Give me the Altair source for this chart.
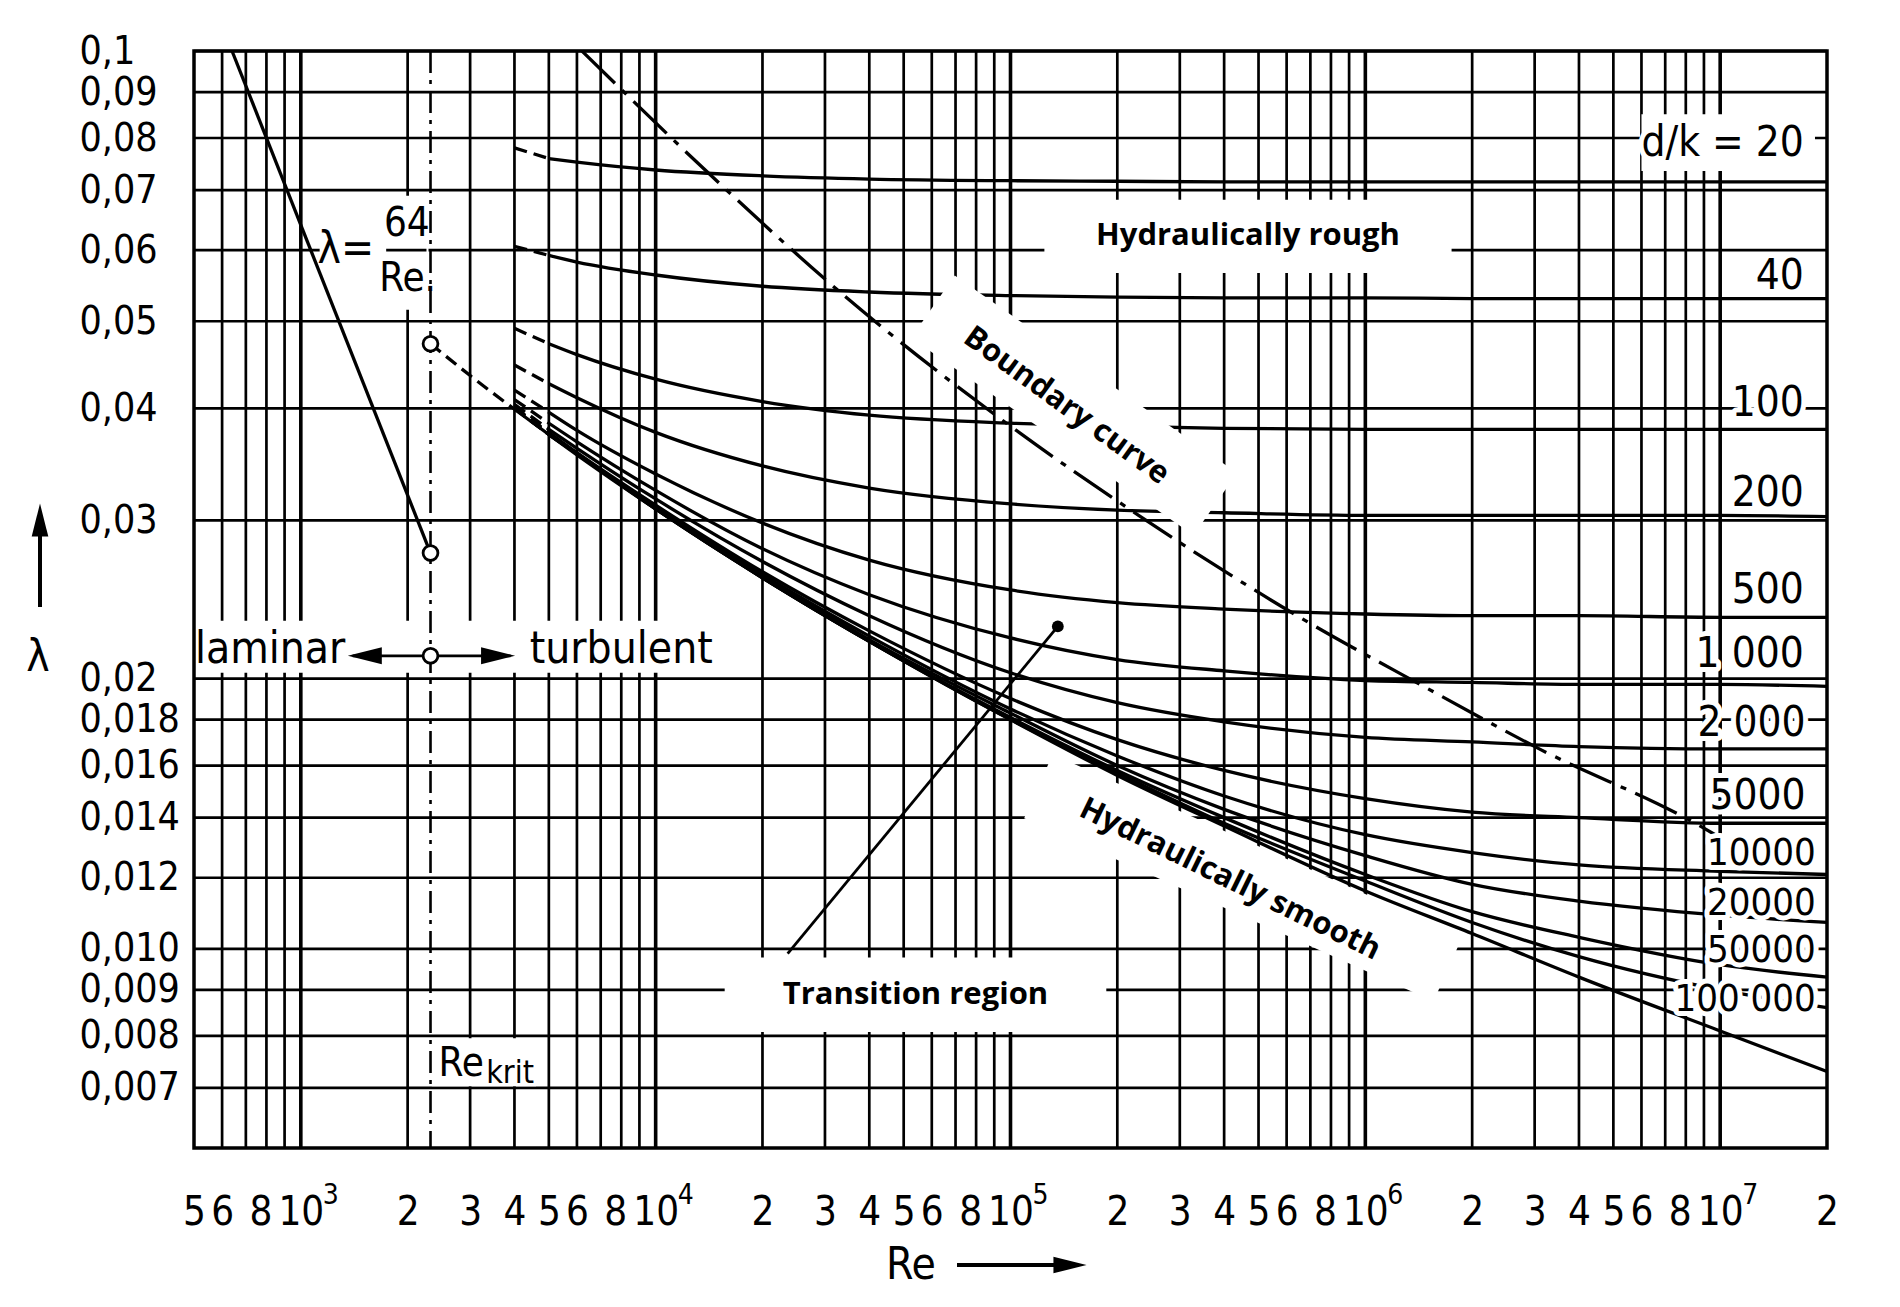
import altair as alt
import pandas as pd

W, H = 1633, 1097
NARROW = "Liberation Sans Narrow, DejaVu Sans Condensed, Liberation Sans, sans-serif"
BOLD = "Open Sans, Noto Sans, DejaVu Sans, sans-serif"

# ---------------- axes / ticks ----------------
X_TICK_VALUES = [500, 600, 800, 1000, 2000, 3000, 4000, 5000, 6000, 8000, 10000,
                 20000, 30000, 40000, 50000, 60000, 80000, 100000,
                 200000, 300000, 400000, 500000, 600000, 800000, 1000000,
                 2000000, 3000000, 4000000, 5000000, 6000000, 8000000, 10000000, 20000000]
X_TICK_LABELS = ["5", "6", "8", "10", "2", "3", "4", "5", "6", "8", "10",
                 "2", "3", "4", "5", "6", "8", "10",
                 "2", "3", "4", "5", "6", "8", "10",
                 "2", "3", "4", "5", "6", "8", "10", "2"]
DECADE_RE = [1000, 10000, 100000, 1000000, 10000000]
DECADE_EXP = ["3", "4", "5", "6", "7"]
EIGHT_RE = [800, 8000, 80000, 800000, 8000000]
Y_TICK_VALUES = [0.1, 0.09, 0.08, 0.07, 0.06, 0.05, 0.04, 0.03, 0.02, 0.018, 0.016,
                 0.014, 0.012, 0.010, 0.009, 0.008, 0.007]
Y_TICK_LABELS = ["0,1", "0,09", "0,08", "0,07", "0,06", "0,05", "0,04", "0,03", "0,02",
                 "0,018", "0,016", "0,014", "0,012", "0,010", "0,009", "0,008", "0,007"]
X_GRID = [m * 10 ** e for e in range(2, 8) for m in range(1, 10) if 500 < m * 10 ** e < 2e7]

# ---------------- curves ----------------
RE_TURB = [4000, 5000, 6000, 10000, 20000, 40000, 100000, 200000, 400000,
           1000000, 2000000, 4000000, 10000000, 20000000]
LAM_DK20 = [0.0780, 0.0759, 0.0752, 0.0737, 0.0726, 0.0720, 0.0717, 0.0716, 0.0715, 0.0715, 0.0715, 0.0715, 0.0715, 0.0715]
LAM_DK40 = [0.0606, 0.0592, 0.0582, 0.0563, 0.0547, 0.0539, 0.0534, 0.0532, 0.0531, 0.0531, 0.0530, 0.0530, 0.0530, 0.0530]
LAM_DK100 = [0.0491, 0.0472, 0.0459, 0.0431, 0.0407, 0.0393, 0.0385, 0.0382, 0.0380, 0.0379, 0.0379, 0.0379, 0.0379, 0.0379]
LAM_DK200 = [0.0447, 0.0426, 0.0411, 0.0376, 0.0345, 0.0326, 0.0313, 0.0308, 0.0306, 0.0304, 0.0304, 0.0304, 0.0304, 0.0303]
LAM_DK500 = [0.0419, 0.0396, 0.0378, 0.0338, 0.0298, 0.0271, 0.0251, 0.0243, 0.0239, 0.0236, 0.0235, 0.0235, 0.0234, 0.0234]
LAM_DK1000 = [0.0409, 0.0385, 0.0367, 0.0324, 0.0279, 0.0248, 0.0222, 0.0210, 0.0204, 0.0199, 0.0198, 0.0197, 0.0197, 0.0196]
LAM_DK2000 = [0.0404, 0.0379, 0.0361, 0.0317, 0.0270, 0.0235, 0.0203, 0.0188, 0.0179, 0.0172, 0.0170, 0.0168, 0.0167, 0.0167]
LAM_DK5000 = [0.0401, 0.0376, 0.0357, 0.0312, 0.0263, 0.0226, 0.0190, 0.0171, 0.0158, 0.0147, 0.0142, 0.0140, 0.0138, 0.0138]
LAM_DK10000 = [0.0400, 0.0375, 0.0356, 0.0310, 0.0261, 0.0223, 0.0185, 0.0164, 0.0148, 0.0134, 0.0128, 0.0124, 0.0122, 0.0121]
LAM_DK20000 = [0.0400, 0.0374, 0.0356, 0.0310, 0.0260, 0.0221, 0.0183, 0.0160, 0.0143, 0.0127, 0.0118, 0.0113, 0.0109, 0.0107]
LAM_DK50000 = [0.0400, 0.0374, 0.0356, 0.0309, 0.0259, 0.0220, 0.0181, 0.0158, 0.0140, 0.0121, 0.0110, 0.0103, 0.0096, 0.0093]
LAM_DK100000 = [0.0400, 0.0374, 0.0356, 0.0309, 0.0259, 0.0220, 0.0180, 0.0157, 0.0138, 0.0119, 0.0107, 0.0098, 0.0090, 0.0086]
DK_SERIES = {"20": LAM_DK20, "40": LAM_DK40, "100": LAM_DK100, "200": LAM_DK200,
             "500": LAM_DK500, "1000": LAM_DK1000, "2000": LAM_DK2000, "5000": LAM_DK5000,
             "10000": LAM_DK10000, "20000": LAM_DK20000, "50000": LAM_DK50000,
             "100000": LAM_DK100000}

RE_SMOOTH = [2320, 3000, 4000, 5000, 6000, 10000, 20000, 40000, 100000, 200000, 400000,
             1000000, 2000000, 4000000, 10000000, 20000000]
LAM_SMOOTH = [0.0472, 0.0435, 0.0399, 0.0374, 0.0355, 0.0309, 0.0259, 0.0220, 0.0180, 0.0156,
              0.0137, 0.0116, 0.0104, 0.0093, 0.0081, 0.0073]

RE_LAMINAR = [640, 2320]
LAM_LAMINAR = [0.1, 0.02759]

RE_BOUNDARY = [6200, 14960, 34750, 102800, 229600, 653500, 1426500, 3091000, 8503000, 10000000]
LAM_BOUNDARY = [0.1, 0.0715, 0.0530, 0.0379, 0.0304, 0.0234, 0.0197, 0.0167, 0.0138, 0.0133]

RE_KRIT = [2320]
CIRCLE_LAM = [0.0472, 0.02759, 0.0212]

DK_LABELS = ["d/k  = 20", "40", "100", "200", "500", "1 000", "2 000", "5000",
             "10000", "20000", "50000", "100 000"]
DK_LABEL_RE = [17200000, 17200000, 17200000, 17200000, 17200000, 17200000, 17400000, 17400000,
               18600000, 18600000, 18600000, 18600000]
DK_LABEL_LAM = [0.0790, 0.0561, 0.0405, 0.0322, 0.0251, 0.0213, 0.01784, 0.0148,
                0.01276, 0.01121, 0.00994, 0.00877]

XS = alt.Scale(type="log", domain=[500, 20000000], nice=False)
YS = alt.Scale(type="log", domain=[0.006, 0.1], nice=False)


def label_expr(values, labels):
    parts = [f"abs(datum.value / {v!r} - 1) < 0.001 ? '{lab}' : " for v, lab in zip(values, labels)]
    return "".join(parts) + "''"


eight_test = " || ".join(f"datum.value == {v}" for v in EIGHT_RE)

X_AXIS = alt.Axis(values=X_TICK_VALUES, labelExpr=label_expr(X_TICK_VALUES, X_TICK_LABELS),
                  grid=False, ticks=False, tickSize=0, domain=False, title=None,
                  labelFont=NARROW, labelFontSize=40, labelColor="black",
                  labelPadding=64, labelBaseline="middle", labelFlush=False,
                  labelOverlap=False, labelBound=False,
                  labelOffset={"condition": {"test": eight_test, "value": -6}, "value": 0})
Y_AXIS = alt.Axis(values=Y_TICK_VALUES, labelExpr=label_expr(Y_TICK_VALUES, Y_TICK_LABELS),
                  grid=False, ticks=False, tickSize=0, domain=False, title=None,
                  labelFont=NARROW, labelFontSize=39, labelColor="black",
                  labelAlign="left", labelPadding=115, labelBaseline="middle",
                  labelFlush=False, labelOverlap=False, labelBound=False)


def X(f="Re"):
    return alt.X(f"{f}:Q", scale=XS, axis=X_AXIS)


def Y(f="lam"):
    return alt.Y(f"{f}:Q", scale=YS, axis=Y_AXIS)


GRID_W = 2.7
CURVE_W = 3.3
layers = []

# grid
vgrid_df = pd.DataFrame({"Re": X_GRID,
                         "w": [3.6 if str(v).startswith("1") else GRID_W for v in X_GRID]})
layers.append(alt.Chart(vgrid_df).mark_rule(color="black").encode(
    x=X(), strokeWidth=alt.StrokeWidth("w:Q", scale=None)))
layers.append(alt.Chart(pd.DataFrame({"lam": Y_TICK_VALUES})).mark_rule(
    color="black", strokeWidth=GRID_W).encode(y=Y()))

# decade exponents of the x tick labels
layers.append(alt.Chart(pd.DataFrame({"Re": DECADE_RE, "t": DECADE_EXP})).mark_text(
    font=NARROW, fontSize=28, align="left", baseline="middle", dx=22, color="black").encode(
    x=X(), y=alt.value(H + 48), text="t:N"))

# white boxes that interrupt the grid behind the labels
boxes = pd.DataFrame({
    "Re1": [510, 1130, 2340, 6000000, 124600, 15650],
    "Re2": [13000, 2290, 4600, 18500000, 1750000, 186200],
    "lam1": [0.0203, 0.0515, 0.00703, 0.0735, 0.0566, 0.00808],
    "lam2": [0.0232, 0.069, 0.00795, 0.085, 0.0683, 0.00978]})
layers.append(alt.Chart(boxes.iloc[0:4]).mark_rect(color="white").encode(
    x=X("Re1"), x2="Re2", y=Y("lam1"), y2="lam2"))

# Re_krit dash-dot line
layers.append(alt.Chart(pd.DataFrame({"Re": RE_KRIT})).mark_rule(
    color="black", strokeWidth=2.6, strokeDash=[22, 7, 4, 7]).encode(x=X()))

# curves
solid_rows, dash_rows = [], []
for name, lams in DK_SERIES.items():
    for i, (r, l) in enumerate(zip(RE_TURB, lams)):
        if i >= 1:
            solid_rows.append({"curve": name, "Re": r, "lam": l})
        if i <= 1:
            dash_rows.append({"curve": name, "Re": r, "lam": l})
for i, (r, l) in enumerate(zip(RE_SMOOTH, LAM_SMOOTH)):
    if i >= 2:
        solid_rows.append({"curve": "smooth", "Re": r, "lam": l})
    if i <= 2:
        dash_rows.append({"curve": "smooth", "Re": r, "lam": l})
for r, l in zip(RE_LAMINAR, LAM_LAMINAR):
    solid_rows.append({"curve": "laminar", "Re": r, "lam": l})

layers.append(alt.Chart(pd.DataFrame(solid_rows)).mark_line(
    color="black", strokeWidth=CURVE_W, interpolate="monotone").encode(
    x=X(), y=Y(), detail="curve:N"))
layers.append(alt.Chart(pd.DataFrame(dash_rows)).mark_line(
    color="black", strokeWidth=CURVE_W, strokeDash=[13, 7], interpolate="monotone").encode(
    x=X(), y=Y(), detail="curve:N"))

# boundary curve
layers.append(alt.Chart(pd.DataFrame({"Re": RE_BOUNDARY, "lam": LAM_BOUNDARY})).mark_line(
    color="black", strokeWidth=CURVE_W, strokeDash=[46, 10, 6, 10], interpolate="monotone").encode(
    x=X(), y=Y()))

# white rotated bands for English annotations
bands = pd.DataFrame({"band": ["b", "b", "s", "s"],
                      "Re": [60460, 377600, 119850, 1708000],
                      "lam": [0.05191, 0.03128, 0.01517, 0.00949],
                      "w": [76, 76, 70, 70]})
layers.append(alt.Chart(bands).mark_line(color="white", strokeCap="butt").encode(
    x=X(), y=Y(), detail="band:N", strokeWidth=alt.StrokeWidth("w:Q", scale=None)))
layers.append(alt.Chart(boxes.iloc[4:6]).mark_rect(color="white").encode(
    x=X("Re1"), x2="Re2", y=Y("lam1"), y2="lam2"))

# transition pointer
ptr = pd.DataFrame({"Re": [23550, 135950], "lam": [0.00988, 0.02286]})
layers.append(alt.Chart(ptr).mark_line(color="black", strokeWidth=2.8).encode(x=X(), y=Y()))
layers.append(alt.Chart(ptr.iloc[1:]).mark_point(filled=True, color="black", size=140, opacity=1).encode(
    x=X(), y=Y()))

# laminar / turbulent arrow
layers.append(alt.Chart(pd.DataFrame({"Re1": [1400], "Re2": [3900], "lam": [0.0212]})).mark_rule(
    color="black", strokeWidth=2.8).encode(x=X("Re1"), x2="Re2", y=Y()))
heads = pd.DataFrame({"Re": [1515, 3597], "lam": [0.0212, 0.0212],
                      "shape": ["M -1 0 L 1 -0.5 L 1 0.5 Z", "M 1 0 L -1 -0.5 L -1 0.5 Z"]})
layers.append(alt.Chart(heads).mark_point(filled=True, color="black", size=1156, opacity=1).encode(
    x=X(), y=Y(), shape=alt.Shape("shape:N", scale=None)))
layers.append(alt.Chart(pd.DataFrame({"Re": RE_KRIT * 3, "lam": CIRCLE_LAM})).mark_point(
    filled=True, fill="white", stroke="black", strokeWidth=2.8, size=220, opacity=1).encode(x=X(), y=Y()))


def text_layers(df, size, font=NARROW, weight="normal", align="center", angle=0, halo=0):
    enc = dict(x=X(), y=Y(), text="t:N")
    out = []
    if halo:
        out.append(alt.Chart(df).mark_text(font=font, fontSize=size, fontWeight=weight, align=align,
                                            baseline="middle", angle=angle, fill="white", stroke="white",
                                            strokeWidth=halo, strokeJoin="round").encode(**enc))
    out.append(alt.Chart(df).mark_text(font=font, fontSize=size, fontWeight=weight, align=align,
                                        baseline="middle", angle=angle, fill="black").encode(**enc))
    return out


# right-hand d/k labels
layers += text_layers(pd.DataFrame({"t": DK_LABELS[:8], "Re": DK_LABEL_RE[:8], "lam": DK_LABEL_LAM[:8]}),
                      42, align="right", halo=10)
layers += text_layers(pd.DataFrame({"t": DK_LABELS[8:], "Re": DK_LABEL_RE[8:], "lam": DK_LABEL_LAM[8:]}),
                      38, align="right", halo=10)

# in-chart notation labels
layers += text_layers(pd.DataFrame({"t": ["laminar"], "Re": [1335], "lam": [0.0215]}), 44, align="right")
layers += text_layers(pd.DataFrame({"t": ["turbulent"], "Re": [4416], "lam": [0.0215]}), 44, align="left")
layers += text_layers(pd.DataFrame({"t": ["λ="], "Re": [1340], "lam": [0.0600]}), 44)
layers += text_layers(pd.DataFrame({"t": ["64", "Re."], "Re": [1990, 2000], "lam": [0.0642, 0.0557]}), 40)
layers.append(alt.Chart(pd.DataFrame({"Re1": [1740], "Re2": [2260], "lam": [0.0600]})).mark_rule(
    color="black", strokeWidth=2.8).encode(x=X("Re1"), x2="Re2", y=Y()))
layers += text_layers(pd.DataFrame({"t": ["Re"], "Re": [2445], "lam": [0.00745]}), 40, align="left")
layers += text_layers(pd.DataFrame({"t": ["krit"], "Re": [3330], "lam": [0.00728]}), 32, align="left")

# English annotations
layers += text_layers(pd.DataFrame({"t": ["Hydraulically rough"], "Re": [467000], "lam": [0.0622]}),
                      31, font=BOLD, weight="bold")
layers += text_layers(pd.DataFrame({"t": ["Transition region"], "Re": [53980], "lam": [0.00889]}),
                      31, font=BOLD, weight="bold")
layers += text_layers(pd.DataFrame({"t": ["Boundary curve"], "Re": [143600], "lam": [0.04024]}),
                      31, font=BOLD, weight="bold", angle=36)
layers += text_layers(pd.DataFrame({"t": ["Hydraulically smooth"], "Re": [415000], "lam": [0.01194]}),
                      31, font=BOLD, weight="bold", angle=26)

# axis titles with arrows (pixel positions relative to plot area)
one = pd.DataFrame({"k": [0]})
layers.append(alt.Chart(one).mark_text(font=NARROW, fontSize=44, align="center", baseline="middle",
                                       color="black").encode(x=alt.value(717), y=alt.value(1215),
                                                             text=alt.value("Re")))
layers.append(alt.Chart(one).mark_rule(color="black", strokeWidth=4).encode(
    x=alt.value(763), x2=alt.value(866), y=alt.value(1214)))
layers.append(alt.Chart(one).mark_point(filled=True, color="black", opacity=1, size=1100,
                                        shape="M 1 0 L -1 -0.5 L -1 0.5 Z").encode(
    x=alt.value(876), y=alt.value(1214)))
layers.append(alt.Chart(one).mark_text(font=NARROW, fontSize=44, align="center", baseline="middle",
                                       color="black").encode(x=alt.value(-156), y=alt.value(607),
                                                             text=alt.value("λ")))
layers.append(alt.Chart(one).mark_rule(color="black", strokeWidth=4).encode(
    x=alt.value(-154), y=alt.value(480), y2=alt.value(556)))
layers.append(alt.Chart(one).mark_point(filled=True, color="black", opacity=1, size=1100,
                                        shape="M 0 -1 L -0.5 1 L 0.5 1 Z").encode(
    x=alt.value(-154), y=alt.value(469)))

chart = alt.layer(*layers).properties(
    width=W, height=H,
    autosize=alt.AutoSizeParams(type="none"),
    padding={"left": 194, "top": 51, "right": 73, "bottom": 159},
).configure(background="white").configure_view(stroke="black", strokeWidth=3.5)

chart.save("out.html", embed_options={"renderer": "svg", "actions": False})
